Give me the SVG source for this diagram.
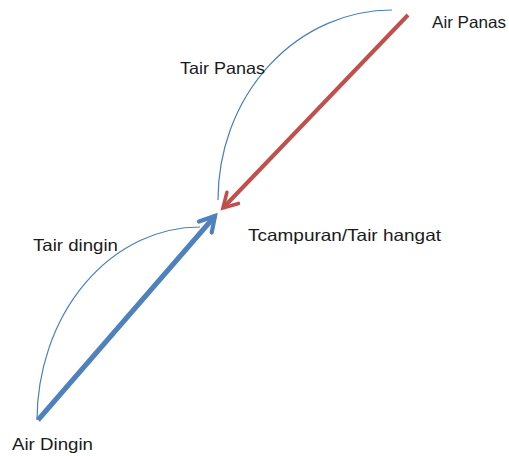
<svg xmlns="http://www.w3.org/2000/svg" width="509" height="456" viewBox="0 0 509 456">
<style>
.lbl{font-family:"Liberation Sans",Arial,sans-serif;font-size:16.5px;fill:#1a1a1a}
.arc{fill:none;stroke:#4a7ebb;stroke-width:1.2}
</style>
<defs>
<marker id="hr" viewBox="0 0 10 10" refX="8" refY="5" markerWidth="5" markerHeight="5" orient="auto" markerUnits="strokeWidth">
<path d="M1,1 L8,5 L1,9" fill="none" stroke="#c0504d" stroke-width="1.8" stroke-linecap="round"/>
</marker>
<marker id="hb" viewBox="0 0 10 10" refX="8" refY="5" markerWidth="4.2" markerHeight="4.2" orient="auto" markerUnits="strokeWidth">
<path d="M1,1 L8,5 L1,9" fill="none" stroke="#4f81bd" stroke-width="2" stroke-linecap="round"/>
</marker>
</defs>
<rect width="509" height="456" fill="#fff"/>
<g id="connectors">
<path class="arc" d="M392,10 A174,190 0 0 0 218,200"/>
<path class="arc" d="M37,420 A163,194 0 0 1 200,227"/>
<line x1="408" y1="15" x2="223" y2="208" stroke="#c0504d" stroke-width="4" marker-end="url(#hr)"/>
<line x1="38" y1="420" x2="215" y2="216" stroke="#4f81bd" stroke-width="5" marker-end="url(#hb)"/>
</g>
<g id="air-panas"><text class="lbl" x="432" y="28" textLength="74" lengthAdjust="spacingAndGlyphs">Air Panas</text></g>
<g id="tair-panas"><text class="lbl" x="180" y="74" textLength="85" lengthAdjust="spacingAndGlyphs">Tair Panas</text></g>
<g id="tcampuran"><text class="lbl" x="248" y="241" textLength="193" lengthAdjust="spacingAndGlyphs">Tcampuran/Tair hangat</text></g>
<g id="tair-dingin"><text class="lbl" x="33" y="251" textLength="85" lengthAdjust="spacingAndGlyphs">Tair dingin</text></g>
<g id="air-dingin"><text class="lbl" x="12" y="450" textLength="81" lengthAdjust="spacingAndGlyphs">Air Dingin</text></g>
</svg>
